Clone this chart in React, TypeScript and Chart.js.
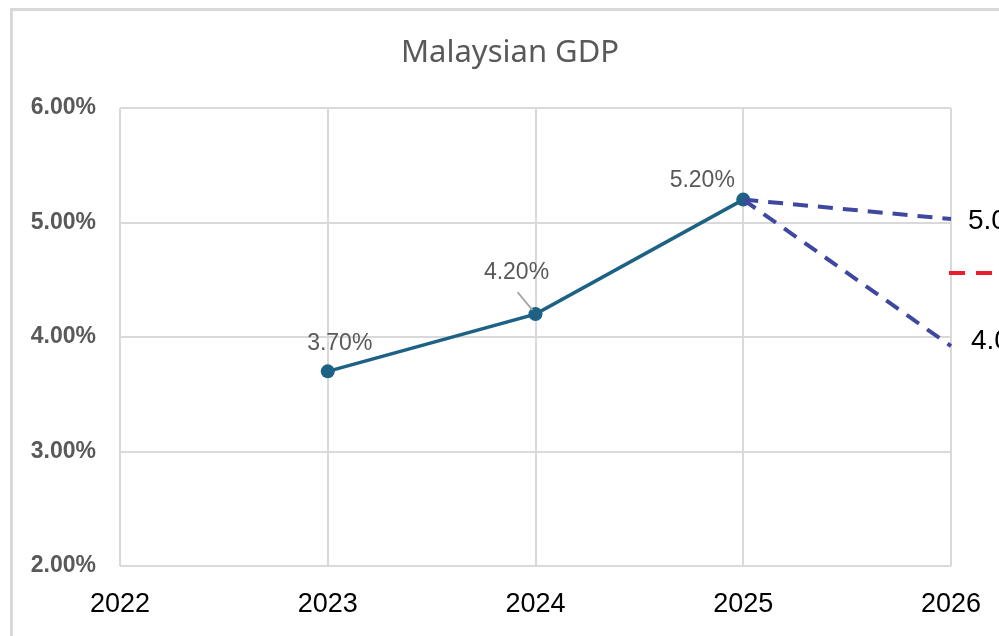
import React, { useEffect, useRef } from "react";
import { Chart, registerables } from "chart.js";

Chart.register(...registerables);

const years = ["2022", "2023", "2024", "2025", "2026"];
const gdpActual = [null, 3.7, 4.2, 5.2, null];
const forecastHigh = [null, null, null, 5.2, 5.03];
const forecastLow = [null, null, null, 5.2, 3.92];
const forecastMid = 4.56;
const actualLabels = ["", "3.70%", "4.20%", "5.20%", ""];
const rangeLabels = ["5.0%", "4.0%"];
const chartTitle = "Malaysian GDP";
const yMin = 2;
const yMax = 6;
const yStep = 1;

const GRID = "#d9d9d9";
const GRAY_TEXT = "#595959";
const MAIN = "#1d6285";
const DASH_BLUE = "#3f48a0";
const DASH_RED = "#ec1c2e";

// label offsets relative to their points (style, not data)
const labelOffsets = [
  null,
  { dx: 12, dy: -28 },
  { dx: -19, dy: -41 },
  { dx: -41, dy: -19 },
  null,
];

const decorPlugin = {
  id: "decor",
  beforeDraw(chart: any) {
    const ctx = chart.ctx;
    ctx.save();
    ctx.fillStyle = "#ffffff";
    ctx.fillRect(0, 0, chart.width, chart.height);
    ctx.fillStyle = GRID;
    ctx.fillRect(10, 8, 3, chart.height);
    ctx.fillRect(10, 8, chart.width, 3);
    // title
    ctx.fillStyle = GRAY_TEXT;
    ctx.font = '31px "Noto Sans"';
    ctx.textAlign = "center";
    ctx.textBaseline = "alphabetic";
    ctx.fillText(chartTitle, 510, 62);
    ctx.restore();
  },
  afterDraw(chart: any) {
    const ctx = chart.ctx;
    const xs = chart.scales.x;
    const ys = chart.scales.y;
    ctx.save();
    // data labels of the actual series
    const meta = chart.getDatasetMeta(2);
    ctx.font = '23px "Liberation Sans"';
    ctx.fillStyle = GRAY_TEXT;
    ctx.textAlign = "center";
    ctx.textBaseline = "middle";
    actualLabels.forEach((t, i) => {
      const off = labelOffsets[i];
      if (!t || !off) return;
      const p = meta.data[i];
      ctx.fillText(t, p.x + off.dx, p.y + off.dy);
    });
    // leader line for 2024 label
    const p24 = meta.data[2];
    ctx.strokeStyle = "#a6a6a6";
    ctx.lineWidth = 1.8;
    ctx.beginPath();
    ctx.moveTo(p24.x - 18, p24.y - 22);
    ctx.lineTo(p24.x - 3, p24.y - 4);
    ctx.stroke();

    // red mid dashed segment
    const xr = xs.getPixelForValue(4) - 2;
    const yr = ys.getPixelForValue(forecastMid);
    ctx.strokeStyle = DASH_RED;
    ctx.lineWidth = 4;
    ctx.setLineDash([16, 11]);
    ctx.beginPath();
    ctx.moveTo(xr, yr);
    ctx.lineTo(chart.width + 20, yr);
    ctx.stroke();
    ctx.setLineDash([]);

    // range labels
    ctx.font = '28px "Liberation Sans"';
    ctx.fillStyle = "#000000";
    ctx.textAlign = "left";
    ctx.textBaseline = "middle";
    const hi = chart.getDatasetMeta(0).data[4];
    const lo = chart.getDatasetMeta(1).data[4];
    ctx.fillText(rangeLabels[0], hi.x + 17, hi.y + 2);
    ctx.fillText(rangeLabels[1], lo.x + 20, lo.y - 5);
    ctx.restore();
  },
};

export default function App() {
  const ref = useRef<HTMLCanvasElement | null>(null);
  useEffect(() => {
    if (!ref.current) return;
    const chart = new Chart(ref.current, {
      type: "line",
      data: {
        labels: years,
        datasets: [
          {
            data: forecastHigh,
            borderColor: DASH_BLUE,
            borderWidth: 4,
            borderDash: [15, 10],
            pointRadius: 0,
            fill: false,
          },
          {
            data: forecastLow,
            borderColor: DASH_BLUE,
            borderWidth: 4,
            borderDash: [15, 10],
            pointRadius: 0,
            fill: false,
          },
          {
            data: gdpActual,
            borderColor: MAIN,
            backgroundColor: MAIN,
            borderWidth: 3.5,
            pointRadius: 7,
            pointBorderWidth: 0,
            pointBackgroundColor: MAIN,
            fill: false,
          },
        ],
      },
      options: {
        responsive: false,
        animation: false,
        layout: { padding: { top: 108, right: 48, bottom: 0, left: 0 } },
        plugins: {
          legend: { display: false },
          title: { display: false },
          tooltip: { enabled: false },
        },
        scales: {
          x: {
            type: "category",
            offset: false,
            grid: { color: GRID, lineWidth: 2, drawTicks: false },
            border: { display: false },
            ticks: {
              color: "#000000",
              font: { family: "Liberation Sans", size: 27 },
              padding: 22,
              maxRotation: 0,
              autoSkip: false,
            },
            afterFit(scale: any) {
              scale.height = 70;
              scale.paddingLeft = 0;
              scale.paddingRight = 0;
            },
          },
          y: {
            min: yMin,
            max: yMax,
            grid: { color: GRID, lineWidth: 2, drawTicks: false },
            border: { display: false },
            ticks: {
              stepSize: yStep,
              color: GRAY_TEXT,
              font: { family: "Liberation Sans", size: 23, weight: "bold" },
              padding: 24,
              callback: (v: any) => Number(v).toFixed(2) + "%",
            },
            afterFit(scale: any) {
              scale.width = 120;
              scale.paddingTop = 0;
              scale.paddingBottom = 0;
            },
          },
        },
      },
      plugins: [decorPlugin],
    });
    return () => chart.destroy();
  }, []);
  return (
    <div style={{ position: "fixed", left: 0, top: 0, width: 999, height: 636 }}>
      <canvas ref={ref} width={999} height={636} style={{ width: 999, height: 636 }} />
    </div>
  );
}
